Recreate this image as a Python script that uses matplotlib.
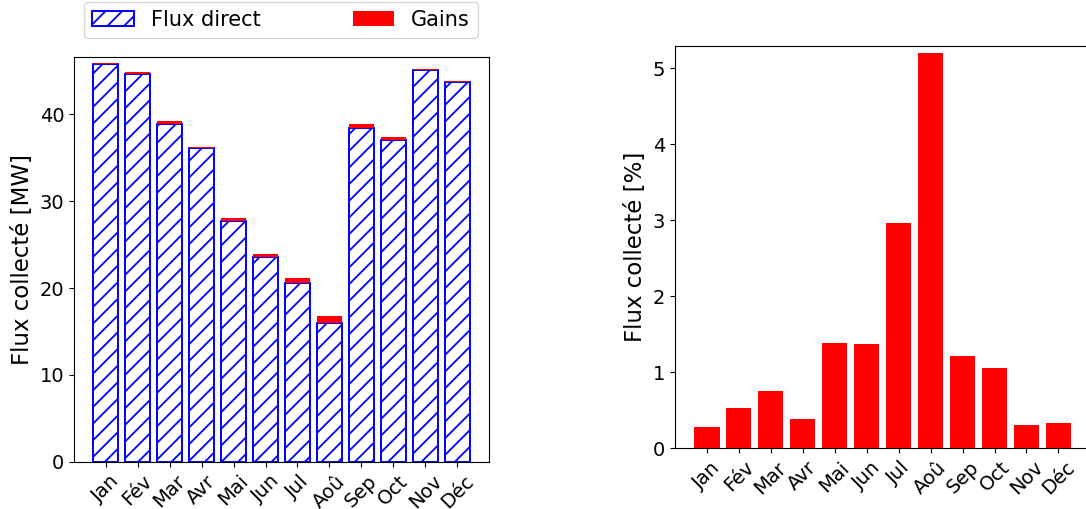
import numpy as np
import matplotlib
matplotlib.use("Agg")
from matplotlib import pyplot as plt

mois = ["Jan", "Fév", "Mar", "Avr", "Mai", "Jun", "Jul", "Aoû", "Sep", "Oct", "Nov", "Déc"]
flux_direct = [45.8, 44.6, 38.9, 36.1, 27.7, 23.6, 20.6, 16.0, 38.4, 37.0, 45.1, 43.7]
gains = [0.13, 0.24, 0.30, 0.14, 0.39, 0.32, 0.61, 0.84, 0.47, 0.39, 0.14, 0.14]
gains_pct = [0.28, 0.53, 0.76, 0.39, 1.39, 1.37, 2.97, 5.21, 1.22, 1.05, 0.31, 0.33]

plt.rcParams["font.size"] = 14
plt.rcParams["hatch.linewidth"] = 1.3

fig = plt.figure(figsize=(10.86, 5.09), dpi=100)
x = np.arange(len(mois))

# flux direct + gains empiles
ax1 = fig.add_axes([0.0681, 0.0926, 0.3822, 0.7947])
ax1.bar(x, flux_direct, color="white", edgecolor="blue", linewidth=1.4, hatch="//",
        label="Flux direct")
ax1.bar(x, gains, bottom=flux_direct, color="red", label="Gains")
ax1.set_ylim(0, 46.55)
ax1.set_ylabel("Flux collecté [MW]", fontsize=16.5)
ax1.set_xticks(x)
ax1.set_xticklabels(mois, rotation=45)
ax1.legend(loc="lower left", bbox_to_anchor=(0.024, 1.047, 0.95, 0.1), ncol=2,
           mode="expand", borderaxespad=0.0, fontsize=15)

# gains relatifs
ax2 = fig.add_axes([0.6216, 0.1194, 0.3822, 0.7908])
ax2.bar(x, gains_pct, color="red")
ax2.set_ylim(0, 5.30)
ax2.set_ylabel("Flux collecté [%]", fontsize=16.5)
ax2.set_xticks(x)
ax2.set_xticklabels(mois, rotation=45)

fig.savefig("out.png", dpi=100)
